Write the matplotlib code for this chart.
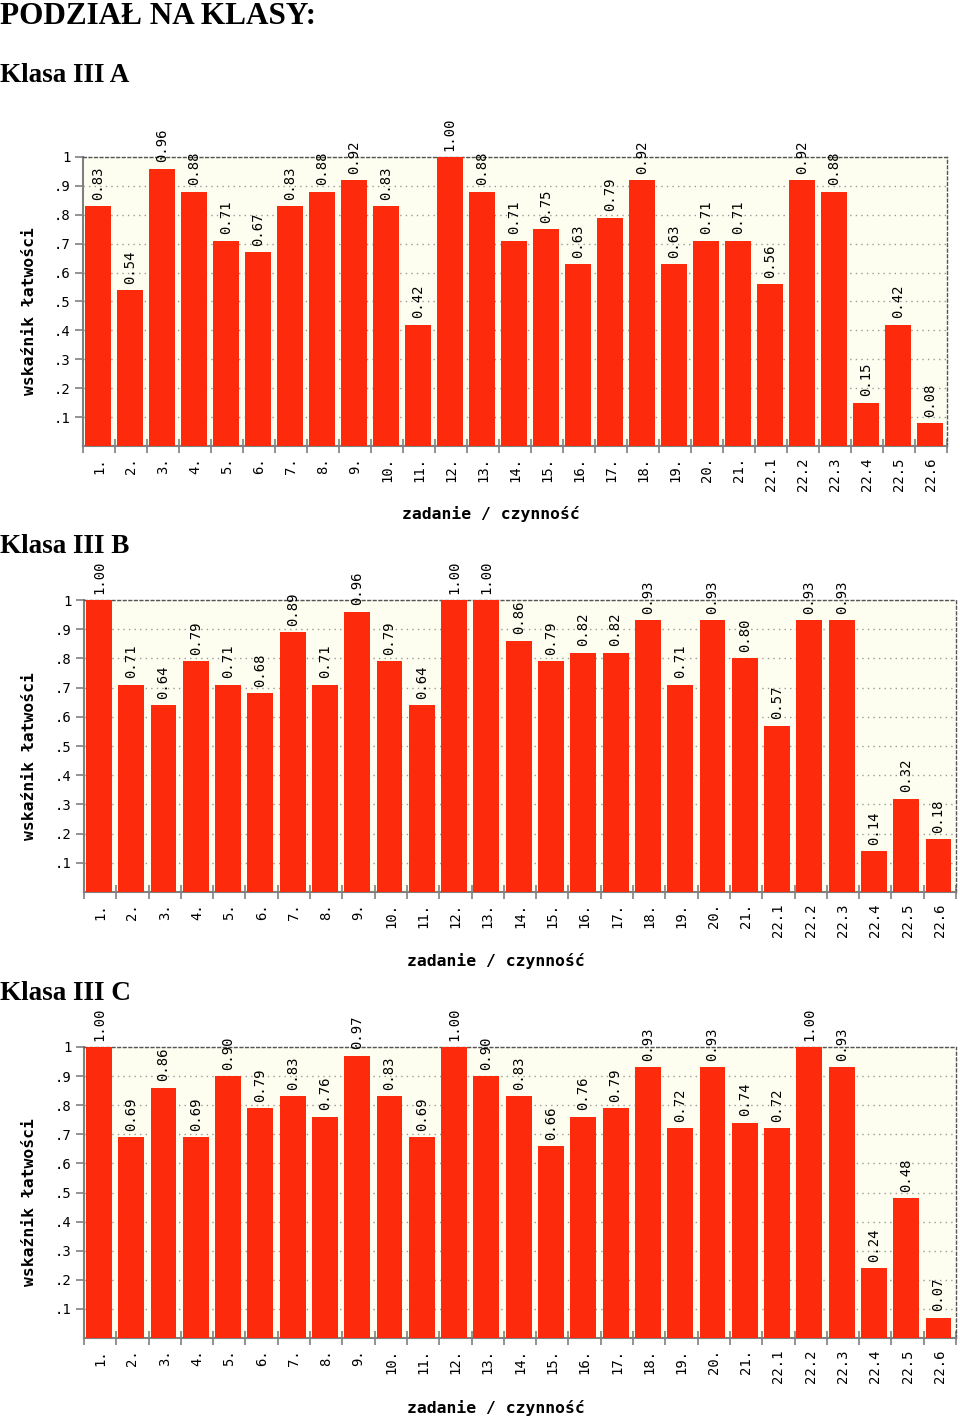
import matplotlib.pyplot as plt
import numpy as np

# categories (zadanie / czynność)
labels = ["1.", "2.", "3.", "4.", "5.", "6.", "7.", "8.", "9.", "10.",
          "11.", "12.", "13.", "14.", "15.", "16.", "17.", "18.", "19.", "20.",
          "21.", "22.1", "22.2", "22.3", "22.4", "22.5", "22.6"]

klasa_a = [0.83, 0.54, 0.96, 0.88, 0.71, 0.67, 0.83, 0.88, 0.92, 0.83,
           0.42, 1.00, 0.88, 0.71, 0.75, 0.63, 0.79, 0.92, 0.63, 0.71,
           0.71, 0.56, 0.92, 0.88, 0.15, 0.42, 0.08]
klasa_b = [1.00, 0.71, 0.64, 0.79, 0.71, 0.68, 0.89, 0.71, 0.96, 0.79,
           0.64, 1.00, 1.00, 0.86, 0.79, 0.82, 0.82, 0.93, 0.71, 0.93,
           0.80, 0.57, 0.93, 0.93, 0.14, 0.32, 0.18]
klasa_c = [1.00, 0.69, 0.86, 0.69, 0.90, 0.79, 0.83, 0.76, 0.97, 0.83,
           0.69, 1.00, 0.90, 0.83, 0.66, 0.76, 0.79, 0.93, 0.72, 0.93,
           0.74, 0.72, 1.00, 0.93, 0.24, 0.48, 0.07]

yticks = [0.1, 0.2, 0.3, 0.4, 0.5, 0.6, 0.7, 0.8, 0.9, 1.0]
ytick_labels = [".1", ".2", ".3", ".4", ".5", ".6", ".7", ".8", ".9", "1"]

W, H = 960, 1419
fig = plt.figure(figsize=(W / 100, H / 100), dpi=100)
fig.patch.set_facecolor("white")

mono = "DejaVu Sans Mono"
serif = "Liberation Serif"
red = "#fe2a0c"
grey = "#808080"


def px(x, y):
    return x / W, 1 - y / H


# (title, values, left, right, top, bottom, title baseline y, xlabel y, xlabel x)
charts = [
    ("Klasa III A", klasa_a, 83, 947, 157, 446, 82, 514, 491),
    ("Klasa III B", klasa_b, 84, 956, 600, 892, 553, 961, 496),
    ("Klasa III C", klasa_c, 84, 956, 1047, 1338, 1000, 1408, 496),
]

fig.text(*px(0, 24), "PODZIAŁ NA KLASY:", family=serif, fontweight="bold",
         fontsize=22.5, ha="left", va="baseline")

for title, vals, l, r, t, b, ty, xly, xlx in charts:
    fig.text(*px(0, ty), title, family=serif, fontweight="bold",
             fontsize=19.5, ha="left", va="baseline")

    ax = fig.add_axes([l / W, 1 - b / H, (r - l) / W, (b - t) / H])
    ax.set_facecolor("#fefef0")
    n = len(vals)
    x = np.arange(n)
    ax.bar(x + 0.06, vals, width=0.8, align="edge", color=red, zorder=3)
    for xi, v in zip(x, vals):
        ax.text(xi + 0.46, v + 0.022, "%.2f" % v, rotation=90, ha="center",
                va="bottom", family=mono, fontsize=10, color="black",
                clip_on=False, zorder=4)

    ax.set_xlim(0, n)
    ax.set_ylim(0, 1)
    ax.set_yticks(yticks)
    ax.set_yticklabels(ytick_labels, family=mono, fontsize=10)
    ax.set_xticks(np.arange(n + 1))
    ax.set_xticklabels([])
    ax.set_xticks(x + 0.5, minor=True)
    ax.set_xticklabels(labels, minor=True, rotation=90, family=mono,
                       fontsize=10)
    ax.tick_params(axis="x", which="major", direction="inout", length=10,
                   width=1.2, color=grey)
    ax.tick_params(axis="x", which="minor", length=0, pad=8)
    ax.tick_params(axis="y", direction="out", length=6, width=1.2,
                   color=grey, pad=3)

    ax.grid(axis="y", linestyle=(0, (1, 3)), color="#999999", linewidth=1,
            zorder=1)
    for s in ["left", "bottom"]:
        ax.spines[s].set_color(grey)
        ax.spines[s].set_linewidth(1.5)
    for s in ["top", "right"]:
        ax.spines[s].set_color("#555555")
        ax.spines[s].set_linestyle((0, (2, 2)))
        ax.spines[s].set_linewidth(1)

    fig.text(*px(30, (t + b) / 2 + 10), "wskaźnik łatwości", rotation=90,
             family=mono, fontweight="bold", fontsize=11.8, ha="center",
             va="center")
    fig.text(*px(xlx, xly), "zadanie / czynność", family=mono,
             fontweight="bold", fontsize=11.8, ha="center", va="center")

fig.savefig("out.png", dpi=100)
